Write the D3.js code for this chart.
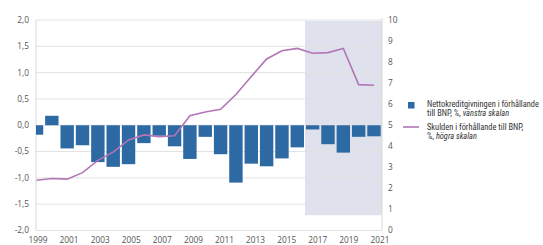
<!DOCTYPE html>
<html>
<head>
<meta charset="utf-8">
<title>Nettokreditgivning och skuld</title>
<style>
  body { margin: 0; background: #fff; }
  svg text { font-family: "Open Sans", "DejaVu Sans", sans-serif; fill: #555; }
  .legend text { font-family: "Liberation Sans Narrow", "Roboto Condensed", sans-serif; fill: #333; }
</style>
</head>
<body>
<svg width="543" height="245"></svg>
<script src="https://d3js.org/d3.v7.min.js"></script>
<script>
// data
var years = d3.range(1999, 2022);
var lending = [-0.18, 0.18, -0.44, -0.38, -0.70, -0.79, -0.74, -0.34, -0.20, -0.40, -0.64,
               -0.22, -0.55, -1.09, -0.73, -0.78, -0.63, -0.42, -0.08, -0.36, -0.52, -0.22, -0.21];
var debt = [2.39, 2.47, 2.44, 2.75, 3.33, 3.72, 4.30, 4.54, 4.46, 4.50, 5.45,
            5.63, 5.76, 6.46, 7.32, 8.15, 8.54, 8.65, 8.42, 8.45, 8.65, 6.93, 6.90];
var leftTicks = [-2, -1.5, -1, -0.5, 0, 0.5, 1, 1.5, 2];
var rightTicks = [0, 1, 2, 3, 4, 5, 6, 7, 8, 9, 10];
var yearTicks = [1999, 2001, 2003, 2005, 2007, 2009, 2011, 2013, 2015, 2017, 2019, 2021];
var forecast = {from: 2016.5, to: 2021, top: 2.0, bottom: -1.71};

var svg = d3.select("svg");
var plotL = 36, plotR = 382, plotT = 20, plotB = 230.5;

var x = d3.scaleLinear().domain([1999, 2021]).range([36.5, 374]);
var yL = d3.scaleLinear().domain([-2, 2]).range([plotB, plotT]);
var yR = d3.scaleLinear().domain([0, 10]).range([plotB, plotT]);
var fmt = function(d) { return d3.format(".1f")(d).replace(".", ",").replace("−", "-"); };

// forecast shading
svg.append("rect")
  .attr("x", x(forecast.from))
  .attr("y", yL(forecast.top) + 1)
  .attr("width", plotR - x(forecast.from))
  .attr("height", yL(forecast.bottom) - yL(forecast.top) - 1)
  .attr("fill", "#dfe1ed");

// grid
svg.append("g").selectAll("line").data(leftTicks).enter().append("line")
  .attr("x1", plotL).attr("x2", plotR)
  .attr("y1", function(d) { return yL(d); }).attr("y2", function(d) { return yL(d); })
  .attr("stroke", "#e2e2e2").attr("stroke-width", 1);

// axes lines
svg.append("line").attr("x1", plotL).attr("x2", plotL).attr("y1", plotT).attr("y2", plotB)
  .attr("stroke", "#d8d8d8");
svg.append("line").attr("x1", plotR).attr("x2", plotR).attr("y1", plotT - 2).attr("y2", plotB)
  .attr("stroke", "#d8d8d8");

// bars
svg.append("clipPath").attr("id", "plot")
  .append("rect").attr("x", plotL).attr("y", 0).attr("width", plotR - plotL).attr("height", 245);
var bw = 13.4;
svg.append("g").attr("clip-path", "url(#plot)")
  .selectAll("rect").data(years).enter().append("rect")
  .attr("x", function(d) { return x(d) - bw / 2; })
  .attr("y", function(d, i) { return yL(Math.max(0, lending[i])); })
  .attr("width", bw)
  .attr("height", function(d, i) { return Math.abs(yL(lending[i]) - yL(0)); })
  .attr("fill", "#2d69a2");

// line
svg.append("path").datum(years)
  .attr("fill", "none").attr("stroke", "#b276b6").attr("stroke-width", 1.6)
  .attr("d", d3.line().x(function(d) { return x(d); }).y(function(d, i) { return yR(debt[i]); }));

// left axis labels
svg.append("g").selectAll("text").data(leftTicks).enter().append("text")
  .attr("x", 29).attr("y", function(d) { return yL(d); }).attr("dy", "0.35em")
  .attr("text-anchor", "end").attr("font-size", 8.3)
  .text(fmt);

// right axis labels
svg.append("g").selectAll("text").data(rightTicks).enter().append("text")
  .attr("x", 388).attr("y", function(d) { return yR(d); }).attr("dy", "0.35em")
  .attr("text-anchor", "start").attr("font-size", 8.3)
  .text(function(d) { return d; });

// year labels
svg.append("g").selectAll("text").data(yearTicks).enter().append("text")
  .attr("x", function(d) { return x(d) + (d - 1999) * 0.2 + 1.5; }).attr("y", 243)
  .attr("text-anchor", "middle").attr("font-size", 8.3)
  .text(function(d) { return d; });

// legend
var lg = svg.append("g").attr("class", "legend").attr("font-size", 8.4);
lg.append("rect").attr("x", 408).attr("y", 102).attr("width", 6.5).attr("height", 6.5).attr("fill", "#2d69a2");
var t1 = lg.append("text").attr("x", 427).attr("y", 107);
t1.append("tspan").text("Nettokreditgivningen i förhållande");
var t2 = lg.append("text").attr("x", 427).attr("y", 116);
t2.append("tspan").text("till BNP, %, ");
t2.append("tspan").attr("font-style", "italic").text("vänstra skalan");

lg.append("line").attr("x1", 403).attr("x2", 419).attr("y1", 127).attr("y2", 127)
  .attr("stroke", "#b276b6").attr("stroke-width", 1.6);
var t3 = lg.append("text").attr("x", 427).attr("y", 130);
t3.append("tspan").text("Skulden i förhållande till BNP,");
var t4 = lg.append("text").attr("x", 427).attr("y", 139);
t4.append("tspan").text("%, ");
t4.append("tspan").attr("font-style", "italic").text("högra skalan");
</script>
</body>
</html>
